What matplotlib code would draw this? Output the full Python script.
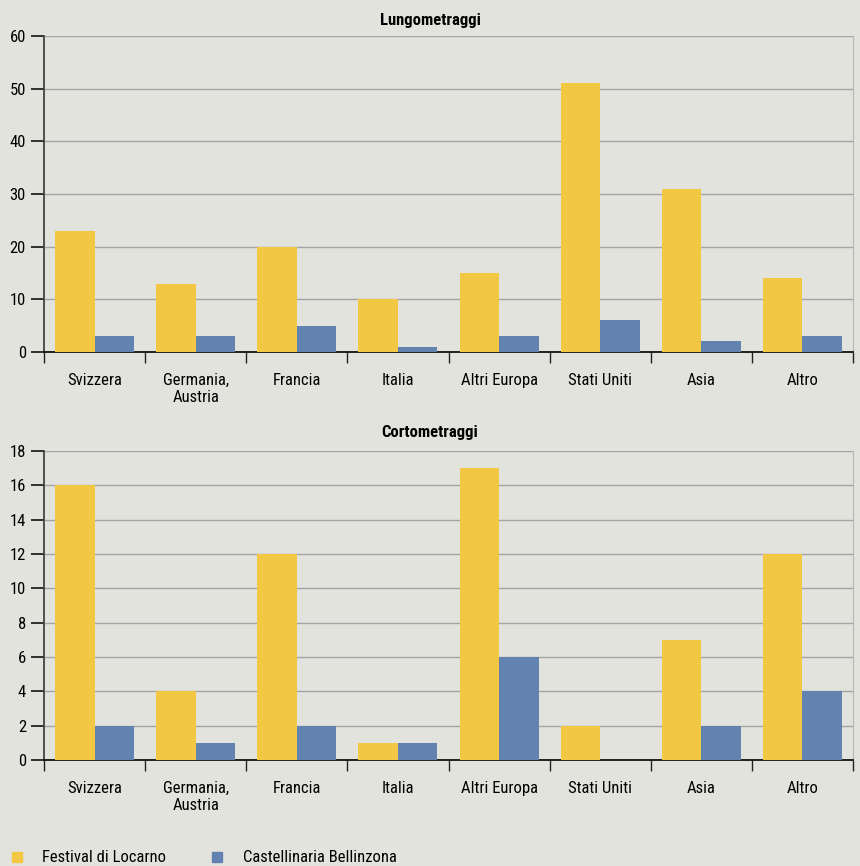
import numpy as np
import matplotlib
matplotlib.use("Agg")
import matplotlib.pyplot as plt
from matplotlib.patches import Rectangle

plt.rcParams['font.family'] = ['Roboto Condensed', 'Liberation Sans Narrow', 'DejaVu Sans']

# --- DATA ---
categories = ["Svizzera", "Germania,\nAustria", "Francia", "Italia",
              "Altri Europa", "Stati Uniti", "Asia", "Altro"]
series_names = ["Festival di Locarno", "Castellinaria Bellinzona"]

lungo_locarno = [23, 13, 20, 10, 15, 51, 31, 14]
lungo_bellinzona = [3, 3, 5, 1, 3, 6, 2, 3]
corto_locarno = [16, 4, 12, 1, 17, 2, 7, 12]
corto_bellinzona = [2, 1, 2, 1, 6, 0, 2, 4]

lungo_ticks = [0, 10, 20, 30, 40, 50, 60]
corto_ticks = [0, 2, 4, 6, 8, 10, 12, 14, 16, 18]

# --- STYLE ---
bg = '#e3e3de'
yellow = '#f2c744'
blue = '#6283b0'
grid_c = '#a3a3a3'
fs = 12

fig = plt.figure(figsize=(8.6, 8.66), dpi=100, facecolor=bg)
W, H = 860, 866


def panel(rect_px, title, title_y, loc, bel, yticks):
    x0, y0, x1, y1 = rect_px
    ax = fig.add_axes([x0 / W, 1 - y1 / H, (x1 - x0) / W, (y1 - y0) / H])
    ax.set_facecolor(bg)
    idx = np.arange(len(categories))
    bw = 0.39
    ax.bar(idx + 0.5 - bw, loc, width=bw, align='edge', color=yellow, zorder=3)
    ax.bar(idx + 0.5, bel, width=bw, align='edge', color=blue, zorder=3)
    ax.set_xlim(0, len(categories))
    ax.set_ylim(yticks[0], yticks[-1])
    ax.set_yticks(yticks)
    ax.set_xticks(np.arange(len(categories) + 1))
    ax.set_xticklabels([])
    ax.set_xticks(idx + 0.5, minor=True)
    ax.set_xticklabels(categories, minor=True, fontsize=fs, linespacing=1.15)
    ax.tick_params(axis='x', which='minor', length=0, pad=15)
    ax.tick_params(axis='x', which='major', length=8, width=1, color='#222222', direction='out')
    ax.tick_params(axis='y', length=9.5, width=1.2, color='#111111', labelsize=fs, pad=3.5)
    ax.yaxis.grid(True, color=grid_c, linewidth=1, zorder=0)
    ax.set_axisbelow(True)
    ax.spines['top'].set_visible(False)
    ax.spines['right'].set_color('#b8b8b8')
    ax.spines['left'].set_color('#444444')
    ax.spines['left'].set_linewidth(1.3)
    ax.spines['bottom'].set_color('#111111')
    ax.spines['bottom'].set_linewidth(1.3)
    # title is centred on the figure, not on the axes
    fig.text(0.5, 1 - title_y / H, title, fontsize=fs, fontweight='bold',
             ha='center', va='center')
    return ax


panel((44, 36, 853, 352), "Lungometraggi", 20, lungo_locarno, lungo_bellinzona, lungo_ticks)
panel((44, 451, 853, 760), "Cortometraggi", 432, corto_locarno, corto_bellinzona, corto_ticks)

# legend
for xs, xt, col, name in [(12, 42, yellow, series_names[0]), (212, 243, blue, series_names[1])]:
    fig.patches.append(Rectangle((xs / W, 1 - 862 / H), 10 / W, 10 / H,
                                 transform=fig.transFigure, color=col))
    fig.text(xt / W, 1 - 857 / H, name, fontsize=fs, va='center', ha='left')

fig.savefig("out.png", dpi=100, facecolor=bg)
